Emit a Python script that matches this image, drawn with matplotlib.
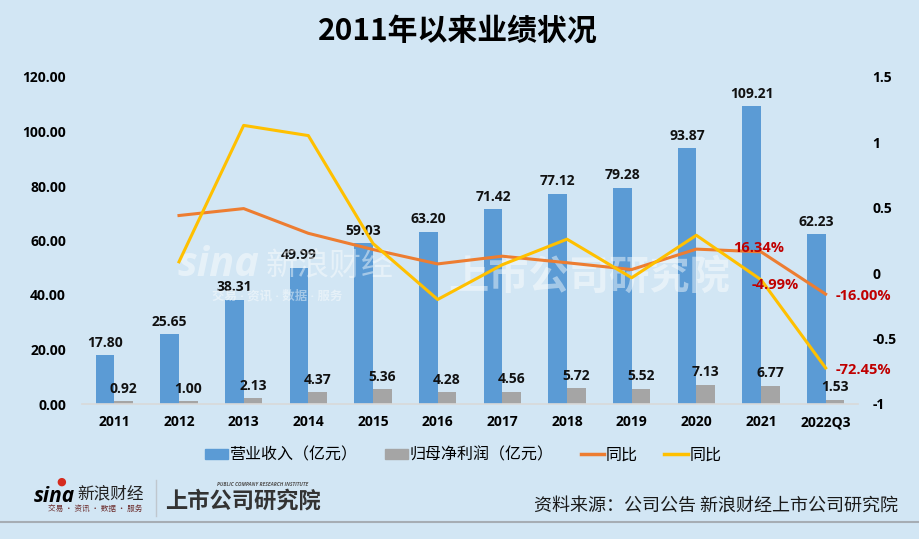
import numpy as np
import matplotlib.pyplot as plt
from matplotlib.lines import Line2D
from matplotlib.patches import Patch

plt.rcParams['font.family'] = ['Open Sans', 'Noto Sans CJK SC', 'DejaVu Sans']

# data
years = ['2011', '2012', '2013', '2014', '2015', '2016', '2017', '2018', '2019', '2020', '2021', '2022Q3']
revenue = [17.80, 25.65, 38.31, 49.99, 59.03, 63.20, 71.42, 77.12, 79.28, 93.87, 109.21, 62.23]
profit = [0.92, 1.00, 2.13, 4.37, 5.36, 4.28, 4.56, 5.72, 5.52, 7.13, 6.77, 1.53]
rev_yoy = [np.nan, 0.441, 0.494, 0.305, 0.181, 0.071, 0.130, 0.080, 0.028, 0.184, 0.1634, -0.16]
profit_yoy = [np.nan, 0.087, 1.13, 1.052, 0.227, -0.201, 0.065, 0.26, -0.035, 0.29, -0.0499, -0.7245]

bg = '#D2E6F4'
blue = '#5B9BD5'
gray = '#A5A5A5'
orange = '#ED7D31'
yellow = '#FFC000'
red = '#C00000'

W, H = 920, 539
fig = plt.figure(figsize=(W / 100, H / 100), dpi=100, facecolor=bg)
ax = fig.add_axes([82 / W, 1 - 404 / H, 776 / W, 327 / H])
ax.set_facecolor('none')
ax2 = ax.twinx()

x = np.arange(len(years))
bw = 0.29
ax.bar(x - bw / 2, revenue, bw, color=blue, zorder=2)
ax.bar(x + bw / 2, profit, bw, color=gray, zorder=2)

ax.set_xlim(-0.5, len(years) - 0.5)
ax.set_ylim(0, 120)
ax.set_yticks(np.arange(0, 121, 20))
ax.set_yticklabels([f'{v:.2f}' for v in np.arange(0, 121, 20)])
ax.set_xticks(x)
ax.set_xticklabels(years)
ax.tick_params(axis='y', length=0, pad=11.5)
ax.tick_params(axis='x', length=0, pad=8)
for lab in ax.get_xticklabels() + ax.get_yticklabels():
    lab.set_fontsize(10)
    lab.set_fontweight('bold')
for s in ['top', 'left', 'right']:
    ax.spines[s].set_visible(False)
ax.spines['bottom'].set_color('#D9D9D9')
ax.spines['bottom'].set_linewidth(1.2)

# bar labels
for xi, v in zip(x, revenue):
    ax.annotate(f'{v:.2f}', (xi - bw / 2, v), xytext=(0, 4), textcoords='offset points',
                ha='center', va='bottom', fontsize=10, fontweight='bold', color='#111111')
for xi, v in zip(x, profit):
    ax.annotate(f'{v:.2f}', (xi + bw / 2, v), xytext=(0, 4), textcoords='offset points',
                ha='center', va='bottom', fontsize=10, fontweight='bold', color='#111111')

# yoy lines
ax2.plot(x, rev_yoy, color=orange, lw=2.2, zorder=4)
ax2.plot(x, profit_yoy, color=yellow, lw=2.2, zorder=4)
ax2.set_ylim(-1, 1.5)
ax2.set_yticks([-1, -0.5, 0, 0.5, 1, 1.5])
ax2.set_yticklabels(['-1', '-0.5', '0', '0.5', '1', '1.5'])
ax2.tick_params(axis='y', length=0, pad=10.5)
for lab in ax2.get_yticklabels():
    lab.set_fontsize(10)
    lab.set_fontweight('bold')
for s in ax2.spines.values():
    s.set_visible(False)

lbl = dict(fontsize=10.5, fontweight='bold', color=red, textcoords='offset points')
ax2.annotate(f'{rev_yoy[10] * 100:.2f}%', (x[10], rev_yoy[10]), xytext=(-2, 3),
             ha='center', va='center', zorder=6, **lbl)
ax2.annotate(f'{profit_yoy[10] * 100:.2f}%', (x[10], profit_yoy[10]), xytext=(10, -4),
             ha='center', va='center', zorder=6, **lbl)
ax2.annotate(f'{rev_yoy[11] * 100:.2f}%', (x[11], rev_yoy[11]), xytext=(7, -1),
             ha='left', va='center', zorder=6, **lbl)
ax2.annotate(f'{profit_yoy[11] * 100:.2f}%', (x[11], profit_yoy[11]), xytext=(7, -1.5),
             ha='left', va='center', zorder=6, **lbl)

# watermark
wm = dict(transform=fig.transFigure, color='white', alpha=0.45, zorder=1, va='center')
ax2.text(178 / W, 1 - 266 / H, 'sina', fontsize=30, style='italic', fontweight='bold', **wm)
ax2.text(266 / W, 1 - 266 / H, '新浪财经', fontsize=23, **wm)
ax2.text(212 / W, 1 - 296 / H, '交易 · 资讯 · 数据 · 服务', fontsize=9, fontweight='bold', **wm)
ax2.text(448 / W, 1 - 278 / H, '上市公司研究院', fontsize=29, fontweight='bold', style='italic', **wm)

# title
fig.text(458 / W, 1 - 31 / H, '2011年以来业绩状况', fontsize=21.5, fontweight='bold',
         ha='center', va='center', family='Noto Sans CJK SC')

# legend
handles = [Patch(color=blue), Patch(color=gray),
           Line2D([], [], color=orange, lw=2.5), Line2D([], [], color=yellow, lw=2.5)]
labels = ['营业收入（亿元）', '归母净利润（亿元）', '同比', '同比']
fig.legend(handles, labels, loc='center', bbox_to_anchor=(463 / W, 1 - 455 / H), ncol=4,
           frameon=False, prop={'family': 'Noto Sans CJK SC', 'size': 11.5},
           handlelength=1.45, handleheight=0.56, handletextpad=0.1, columnspacing=1.7)

# footer
fig.text(34 / W, 1 - 496 / H, 'sina', fontsize=15, style='italic', fontweight='bold', va='center')
fig.text(56 / W, 1 - 482 / H, '●', fontsize=8, color='#D52B1E', va='center', family='DejaVu Sans')
fig.text(77 / W, 1 - 494 / H, '新浪财经', fontsize=12, va='center', family='Noto Sans CJK SC', color='#222222')
fig.text(48 / W, 1 - 509 / H, '交易 · 资讯 · 数据 · 服务', fontsize=5.5, va='center',
         family='Noto Sans CJK SC', color='#6b2b2b')
fig.add_artist(Line2D([156 / W, 156 / W], [1 - 480 / H, 1 - 516 / H], color='#BFC7CE', lw=1))
fig.text(217 / W, 1 - 485 / H, 'PUBLIC COMPANY RESEARCH INSTITUTE', fontsize=3.6, style='italic',
         fontweight='bold', va='center', color='#555555')
fig.text(165 / W, 1 - 501 / H, '上市公司研究院', fontsize=16, fontweight='bold', style='italic',
         va='center', family='Noto Sans CJK SC', color='#333333')
fig.text(898 / W, 1 - 506 / H, '资料来源：公司公告 新浪财经上市公司研究院', fontsize=13,
         ha='right', va='center', family='Noto Sans CJK SC', color='#1a1a1a')
fig.add_artist(Line2D([0, 1], [1 - 522 / H, 1 - 522 / H], color='#A6ADB4', lw=1.5))

fig.savefig('out.png', dpi=100, facecolor=bg)
